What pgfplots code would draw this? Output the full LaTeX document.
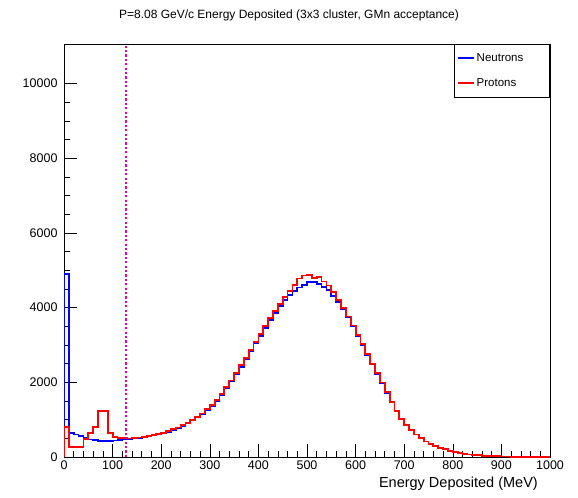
\documentclass[border=0pt]{standalone}
\usepackage{fontspec}
\setmainfont{Liberation Sans}
\usepackage{pgfplots}
\usepackage{pgfplotstable}
\pgfplotsset{compat=1.18}

% bin low edge, neutrons, protons (10 MeV bins)
\pgfplotstableread{
lo n p
0 0 0
0 4900 800
10 640 260
20 600 260
30 560 260
40 510 475
50 470 640
60 450 800
70 430 1240
80 430 1240
90 430 650
100 440 530
110 455 510
120 470 500
130 480 495
140 495 505
150 510 520
160 530 540
170 555 560
180 585 590
190 610 615
200 640 645
210 680 690
220 725 740
230 775 790
240 835 850
250 900 910
260 975 995
270 1060 1080
280 1150 1165
290 1255 1280
300 1375 1395
310 1510 1535
320 1670 1690
330 1840 1865
340 2020 2050
350 2215 2245
360 2415 2455
370 2620 2660
380 2830 2870
390 3040 3080
400 3250 3290
410 3460 3510
420 3670 3720
430 3860 3920
440 4040 4100
450 4200 4290
460 4340 4450
470 4450 4610
480 4540 4780
490 4610 4860
500 4690 4870
510 4680 4800
520 4640 4810
530 4560 4700
540 4470 4590
550 4320 4410
560 4150 4200
570 3960 3980
580 3740 3760
590 3500 3520
600 3250 3270
610 3000 3020
620 2740 2760
630 2480 2500
640 2230 2250
650 1980 1995
660 1720 1730
670 1460 1470
680 1230 1235
690 1020 1025
700 850 855
710 715 720
720 600 605
730 500 505
740 415 415
750 350 350
760 295 295
770 250 250
780 205 205
790 165 165
800 130 130
810 102 102
820 82 82
830 66 66
840 54 54
850 44 44
860 35 35
870 28 28
880 22 22
890 18 18
900 14 14
910 11 11
920 9 9
930 7 7
940 6 6
950 5 5
960 4 4
970 3 3
980 3 3
990 2 2
1000 2 2
}\hist

\begin{document}
\begin{tikzpicture}
\useasboundingbox (-64bp,-41bp) rectangle (514bp,457bp);
\begin{axis}[
  at={(0,0)}, anchor=south west,
  width=486bp, height=413bp, scale only axis,
  xmin=0, xmax=1000, ymin=0, ymax=11060,
  xtick={0,100,...,1000}, minor x tick num=4,
  ytick={0,2000,...,10000}, minor y tick num=3,
  tick align=inside, xtick pos=left, ytick pos=left,
  major tick length=13bp, minor tick length=6.5bp,
  axis line style={line width=0.8bp},
  tick style={line width=0.6bp, black},
  scaled y ticks=false,
  /pgf/number format/1000 sep={},
  /pgf/number format/assume math mode=true,
  tick label style={font=\fontsize{12.5bp}{14bp}\selectfont},
  yticklabel style={xshift=-3bp},
  xlabel={Energy Deposited (MeV)},
  xlabel style={at={(axis description cs:1,0)}, anchor=north east,
    yshift=-20bp, xshift=-12bp, inner sep=0pt,
    font=\fontsize{14.5bp}{16bp}\selectfont},
  legend style={at={(1,1)}, anchor=north east, draw=black,
    line width=0.6bp, font=\fontsize{11.5bp}{13bp}\selectfont,
    inner xsep=3bp, inner ysep=7bp, row sep=12bp},
  legend cell align=left,
  legend image code/.code={\draw[#1] plot coordinates {(0bp,0bp) (16bp,0bp)};},
]
\addplot[const plot, blue, line width=1.8bp] table[x=lo, y=n] {\hist};
\addlegendentry{\makebox[68bp][l]{Neutrons}}
\addplot[const plot, red, line width=1.8bp] table[x=lo, y=p] {\hist};
\addlegendentry{\makebox[68bp][l]{Protons}}
\addplot[magenta, dash pattern=on 2.2bp off 2.2bp, line width=2.4bp, forget plot]
  coordinates {(128,0) (128,11060)};
\end{axis}
\node[font=\fontsize{12bp}{14bp}\selectfont] at (225bp,442bp)
  {P=8.08 GeV/c Energy Deposited (3x3 cluster, GMn acceptance)};
\end{tikzpicture}
\end{document}
